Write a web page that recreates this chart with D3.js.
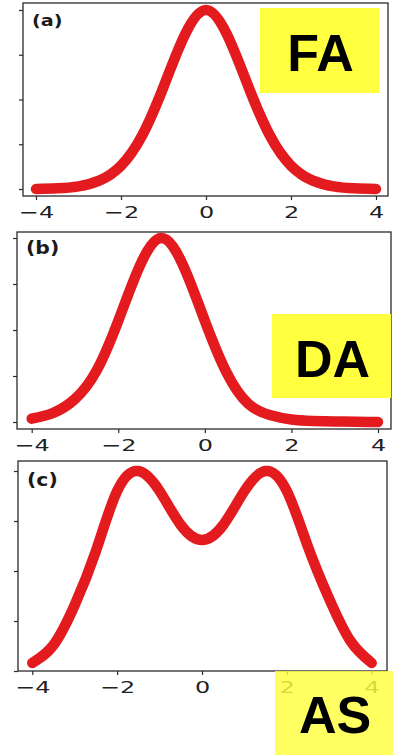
<!DOCTYPE html>
<html>
<head>
<meta charset="utf-8">
<script src="https://cdn.jsdelivr.net/npm/d3@7/dist/d3.min.js"></script>
<style>
  html, body { margin: 0; padding: 0; background: #fff; }
  svg { display: block; }
</style>
</head>
<body>
<svg id="chart" width="393" height="755"></svg>
<script>
// ---- Data ----
const xValues = [-4, -3.5, -3, -2.5, -2, -1.5, -1, -0.5, 0, 0.5, 1, 1.5, 2, 2.5, 3, 3.5, 4];
const faValues = [0.0, 0.004, 0.015, 0.048, 0.13, 0.3, 0.57, 0.86, 1.0, 0.86, 0.57, 0.3, 0.13, 0.048, 0.015, 0.004, 0.0];
const daValues = [0.018, 0.05, 0.125, 0.28, 0.55, 0.85, 1.0, 0.85, 0.55, 0.27, 0.1, 0.038, 0.014, 0.006, 0.003, 0.001, 0.0];
const asValues = [0.04, 0.13, 0.33, 0.6, 0.9, 1.0, 0.9, 0.73, 0.655, 0.73, 0.9, 1.0, 0.9, 0.62, 0.36, 0.15, 0.04];
const panelLabels = ["(a)", "(b)", "(c)"];
const tagLabels = ["FA", "DA", "AS"];
const xTickValues = [-4, -2, 0, 2, 4];
const yTickValues = [0, 0.25, 0.5, 0.75, 1];

// ---- Layout ----
const panels = [
  { values: faValues, label: panelLabels[0], tag: tagLabels[0],
    frame: [23, 388, 3, 196], xr: [36, 376], yr: [189, 10],
    labelPos: [32, 26], labelSize: 16,
    tagBox: [260, 8, 119, 85], tagBase: 70.5, tagOpacity: 1 },
  { values: daValues, label: panelLabels[1], tag: tagLabels[1],
    frame: [17, 391, 232, 429], xr: [31.7, 378], yr: [422, 238],
    labelPos: [26, 254], labelSize: 17,
    tagBox: [272, 314, 119, 84], tagBase: 376.5, tagOpacity: 1 },
  { values: asValues, label: panelLabels[2], tag: tagLabels[2],
    frame: [18, 387, 461, 671], xr: [32.3, 371.7], yr: [671, 471],
    labelPos: [27, 486], labelSize: 17,
    tagBox: [275, 671, 118, 84], tagBase: 733, tagOpacity: 0.82 }
];

const svg = d3.select("#chart");
const red = "#e31b1f";
const yellow = "#ffff40";
const axisColor = "#2a2a2a";

panels.forEach(p => {
  const x = d3.scaleLinear().domain([-4, 4]).range(p.xr);
  const y = d3.scaleLinear().domain([0, 1]).range(p.yr);
  const [fx0, fx1, fy0, fy1] = p.frame;
  const g = svg.append("g");

  // frame
  g.append("rect")
    .attr("x", fx0).attr("y", fy0)
    .attr("width", fx1 - fx0).attr("height", fy1 - fy0)
    .attr("fill", "#fff")
    .attr("stroke", axisColor).attr("stroke-width", 1.3);

  // x axis
  const xa = g.append("g")
    .attr("transform", `translate(0,${fy1})`)
    .call(d3.axisBottom(x).tickValues(xTickValues).tickSize(4).tickPadding(6));
  xa.select(".domain").remove();
  xa.selectAll(".tick line").attr("stroke", axisColor).attr("stroke-width", 1.2);
  xa.selectAll(".tick text")
    .attr("fill", "#222")
    .style("font-family", "'DejaVu Sans', sans-serif")
    .style("font-size", "16.5px")
    .attr("transform", "scale(1.45,1)");

  // y axis (ticks only)
  const ya = g.append("g")
    .attr("transform", `translate(${fx0},0)`)
    .call(d3.axisLeft(y).tickValues(yTickValues).tickSize(4).tickFormat(""));
  ya.select(".domain").remove();
  ya.selectAll(".tick line").attr("stroke", axisColor).attr("stroke-width", 1.2);

  // curve
  const line = d3.line()
    .x((d, i) => x(xValues[i]))
    .y(d => y(d))
    .curve(d3.curveNatural);
  g.append("path")
    .datum(p.values)
    .attr("d", line)
    .attr("fill", "none")
    .attr("stroke", red)
    .attr("stroke-width", 10.5)
    .attr("stroke-linecap", "round")
    .attr("stroke-linejoin", "round");

  // panel label
  g.append("text")
    .attr("x", 0).attr("y", 0)
    .attr("transform", `translate(${p.labelPos[0]},${p.labelPos[1]}) scale(1.2,1)`)
    .attr("fill", "#1a1a1a")
    .style("font-family", "'DejaVu Sans', sans-serif")
    .style("font-weight", "bold")
    .style("font-size", p.labelSize + "px")
    .text(p.label);
});

// yellow tag boxes (drawn last so AS overlaps the tick labels)
panels.forEach(p => {
  const [bx, by, bw, bh] = p.tagBox;
  svg.append("rect")
    .attr("x", bx).attr("y", by).attr("width", bw).attr("height", bh)
    .attr("fill", yellow).attr("fill-opacity", p.tagOpacity);
  svg.append("text")
    .attr("x", bx + bw / 2 + 1).attr("y", p.tagBase)
    .attr("text-anchor", "middle")
    .attr("fill", "#000")
    .style("font-family", "'Liberation Sans', Arial, sans-serif")
    .style("font-weight", "bold")
    .style("font-size", "52px")
    .text(p.tag);
});
</script>
</body>
</html>
